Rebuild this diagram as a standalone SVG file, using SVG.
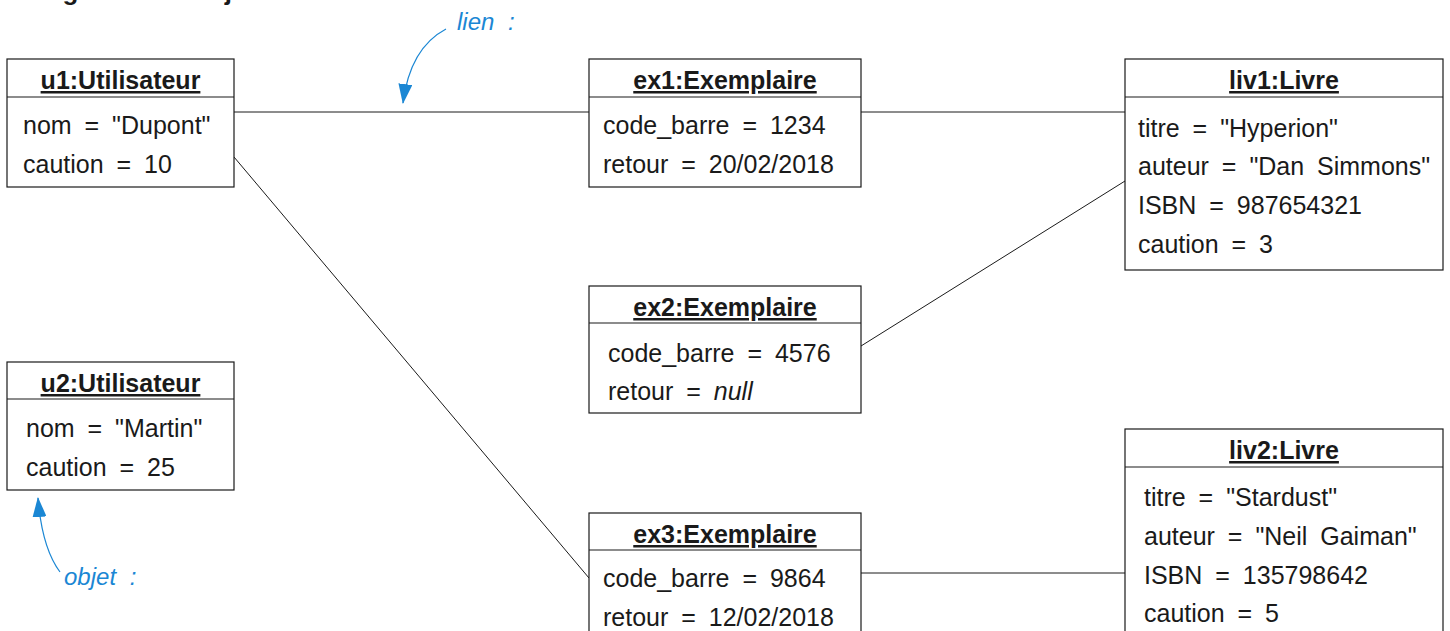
<svg xmlns="http://www.w3.org/2000/svg" width="1450" height="631" viewBox="0 0 1450 631">
<defs>
<style>
.box{fill:#fff;stroke:#1a1a1a;stroke-width:1.2}
.sep{stroke:#1a1a1a;stroke-width:1.2}
.ttl{font-family:"Liberation Sans",Arial,sans-serif;font-size:25px;font-weight:bold;fill:#1a1a1a;text-anchor:middle;text-decoration:underline}
.att{font-family:"Liberation Sans",Arial,sans-serif;font-size:25px;fill:#1a1a1a;word-spacing:6px}
.lnk{stroke:#1a1a1a;stroke-width:1;fill:none}
.note{font-family:"Liberation Sans",Arial,sans-serif;font-size:24px;font-style:italic;fill:#1b87d4;word-spacing:7px}
.narrow{stroke:#1b87d4;stroke-width:1.2;fill:none}
</style>
<marker id="ah" viewBox="0 0 20 14" refX="19" refY="7" markerWidth="20" markerHeight="14" markerUnits="userSpaceOnUse" orient="auto">
<path d="M0,0 L20,7 L0,14 Z" fill="#1b87d4"/>
</marker>
</defs>
<rect width="1450" height="631" fill="#fff"/>
<text x="22" y="0" font-family="Liberation Sans,Arial,sans-serif" font-size="26" font-weight="bold" fill="#1a1a1a">Diagramme d'objets</text>

<g id="connectors">
<line class="lnk" x1="234" y1="112" x2="589" y2="112"/>
<line class="lnk" x1="861" y1="112" x2="1125" y2="112"/>
<line class="lnk" x1="861" y1="346" x2="1125" y2="181"/>
<line class="lnk" x1="234" y1="157" x2="589" y2="578"/>
<line class="lnk" x1="861" y1="573" x2="1125" y2="573"/>
</g>

<g id="u1">
<rect class="box" x="7" y="59" width="227" height="128"/>
<line class="sep" x1="7" y1="97" x2="234" y2="97"/>
<text class="ttl" x="120.5" y="89">u1:Utilisateur</text>
<text class="att" x="23" y="134">nom = "Dupont"</text>
<text class="att" x="23" y="173">caution = 10</text>
</g>

<g id="u2">
<rect class="box" x="7" y="362" width="227" height="128"/>
<line class="sep" x1="7" y1="399" x2="234" y2="399"/>
<text class="ttl" x="120.5" y="392">u2:Utilisateur</text>
<text class="att" x="26" y="437">nom = "Martin"</text>
<text class="att" x="26" y="476">caution = 25</text>
</g>

<g id="ex1">
<rect class="box" x="589" y="59" width="272" height="128"/>
<line class="sep" x1="589" y1="97" x2="861" y2="97"/>
<text class="ttl" x="725" y="89">ex1:Exemplaire</text>
<text class="att" x="603" y="134">code_barre = 1234</text>
<text class="att" x="603" y="173">retour = 20/02/2018</text>
</g>

<g id="ex2">
<rect class="box" x="589" y="286" width="272" height="127"/>
<line class="sep" x1="589" y1="323" x2="861" y2="323"/>
<text class="ttl" x="725" y="316">ex2:Exemplaire</text>
<text class="att" x="608" y="362">code_barre = 4576</text>
<text class="att" x="608" y="400">retour = <tspan font-style="italic">null</tspan></text>
</g>

<g id="ex3">
<rect class="box" x="589" y="513" width="272" height="130"/>
<line class="sep" x1="589" y1="550" x2="861" y2="550"/>
<text class="ttl" x="725" y="543">ex3:Exemplaire</text>
<text class="att" x="603" y="587">code_barre = 9864</text>
<text class="att" x="603" y="626">retour = 12/02/2018</text>
</g>

<g id="liv1">
<rect class="box" x="1125" y="59" width="318" height="211"/>
<line class="sep" x1="1125" y1="97" x2="1443" y2="97"/>
<text class="ttl" x="1284" y="89">liv1:Livre</text>
<text class="att" x="1138" y="137">titre = "Hyperion"</text>
<text class="att" x="1138" y="175">auteur = "Dan Simmons"</text>
<text class="att" x="1138" y="214">ISBN = 987654321</text>
<text class="att" x="1138" y="253">caution = 3</text>
</g>

<g id="liv2">
<rect class="box" x="1125" y="429" width="318" height="215"/>
<line class="sep" x1="1125" y1="467" x2="1443" y2="467"/>
<text class="ttl" x="1284" y="459">liv2:Livre</text>
<text class="att" x="1144" y="506">titre = "Stardust"</text>
<text class="att" x="1144" y="545">auteur = "Neil Gaiman"</text>
<text class="att" x="1144" y="584">ISBN = 135798642</text>
<text class="att" x="1144" y="622">caution = 5</text>
</g>

<g id="note-lien">
<path class="narrow" d="M446,29 Q410,48 403,103" marker-end="url(#ah)"/>
<text class="note" x="457" y="30">lien :</text>
</g>

<g id="note-objet">
<path class="narrow" d="M60,572 Q42,548 38,498" marker-end="url(#ah)"/>
<text class="note" x="64" y="585">objet :</text>
</g>
</svg>
